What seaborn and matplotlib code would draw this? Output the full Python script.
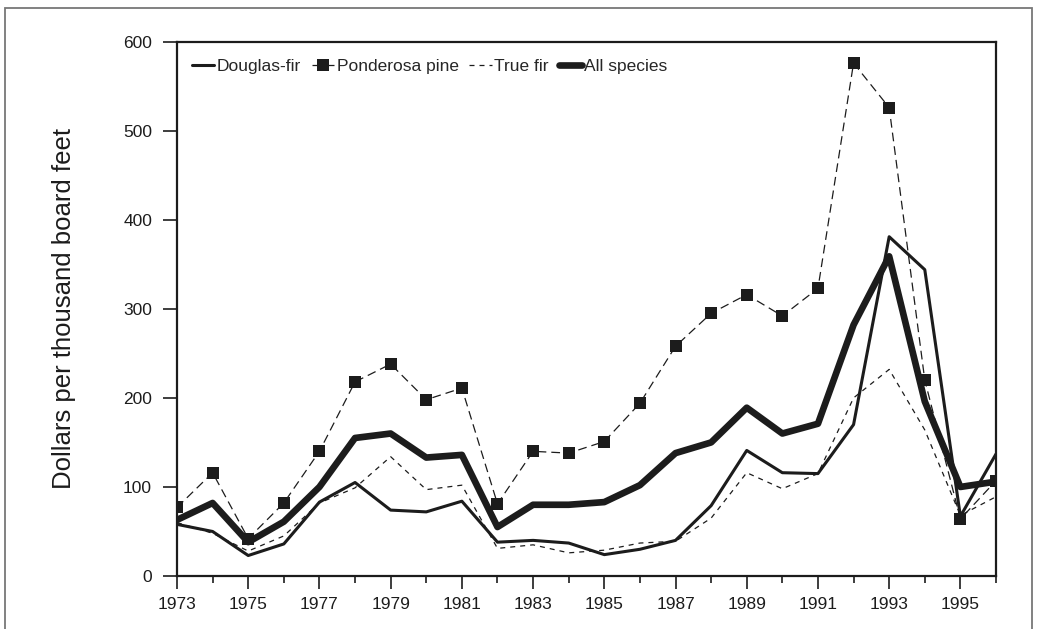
# Stumpage prices by species, 1973-1996

import numpy as np
import pandas as pd
import matplotlib
matplotlib.use("Agg")
import matplotlib.pyplot as plt
import seaborn as sns
from matplotlib.patches import Rectangle

# Values (dollars per thousand board feet)
years = list(range(1973, 1997))
douglas_fir = [58, 50, 23, 36, 83, 105, 74, 72, 84, 38, 40, 37, 24, 30, 40, 79,
               141, 116, 115, 170, 381, 344, 67, 137]
ponderosa_pine = [77, 116, 42, 82, 140, 218, 238, 198, 211, 81, 140, 138, 151, 194,
                  258, 295, 316, 292, 323, 576, 526, 220, 64, 107]
true_fir = [60, 48, 28, 45, 82, 99, 134, 97, 102, 31, 35, 26, 29, 37, 39, 65,
            116, 98, 115, 200, 232, 164, 68, 89]
all_species = [63, 82, 38, 61, 100, 155, 160, 133, 136, 55, 80, 80, 83, 102, 138, 150,
               189, 160, 171, 282, 359, 196, 100, 106]

df = pd.DataFrame({"year": years, "Douglas-fir": douglas_fir,
                   "Ponderosa pine": ponderosa_pine, "True fir": true_fir,
                   "All species": all_species})

sns.set_style("ticks")
plt.rcParams['font.family'] = ['Liberation Sans', 'DejaVu Sans']

ink = "#1c1c1c"
fig = plt.figure(figsize=(10.4, 6.29), dpi=100)
ax = fig.add_axes([177 / 1040, 1 - 576 / 629, (996 - 177) / 1040, (576 - 41.7) / 629])

sns.lineplot(data=df, x="year", y="Douglas-fir", ax=ax, color=ink, linewidth=2.2,
             label="Douglas-fir")
sns.lineplot(data=df, x="year", y="Ponderosa pine", ax=ax, color=ink, linewidth=0.9,
             linestyle=(0, (7, 4)), marker="s", markersize=9, markeredgewidth=0,
             label="Ponderosa pine")
sns.lineplot(data=df, x="year", y="True fir", ax=ax, color=ink, linewidth=0.9,
             linestyle=(0, (4, 4)), label="True fir")
sns.lineplot(data=df, x="year", y="All species", ax=ax, color=ink, linewidth=4.8,
             label="All species")

ax.set_xlim(1973, 1996)
ax.set_ylim(0, 600)
ax.set_yticks(range(0, 601, 100))
ax.set_xticks(range(1973, 1996, 2))
ax.set_xticks(range(1974, 1997, 2), minor=True)
ax.tick_params(axis="both", which="major", labelsize=12.5, length=9, width=1.2,
               color=ink, labelcolor=ink, pad=6)
ax.tick_params(axis="x", which="minor", length=5, width=1.2, color=ink)
ax.tick_params(axis="y", which="major", length=10, pad=8)

for side in ["left", "bottom", "right", "top"]:
    ax.spines[side].set_visible(True)
    ax.spines[side].set_linewidth(1.6)
    ax.spines[side].set_color(ink)

ax.set_xlabel("")
ax.set_ylabel("Dollars per thousand board feet", fontsize=18.5, color=ink, labelpad=34)

ax.legend(loc="upper left", bbox_to_anchor=(0.018, 0.968), ncol=4, frameon=False,
          fontsize=12.5, handlelength=1.3, handletextpad=0.15, columnspacing=0.6,
          borderaxespad=0, borderpad=0)

# thin grey frame around the whole figure, open at the bottom
fig.add_artist(Rectangle((5 / 1040, -0.05), (1032 - 5) / 1040, 1.05 - 8 / 629,
                         transform=fig.transFigure, fill=False,
                         edgecolor="#777777", linewidth=1.3))

fig.savefig("out.png", dpi=100)
